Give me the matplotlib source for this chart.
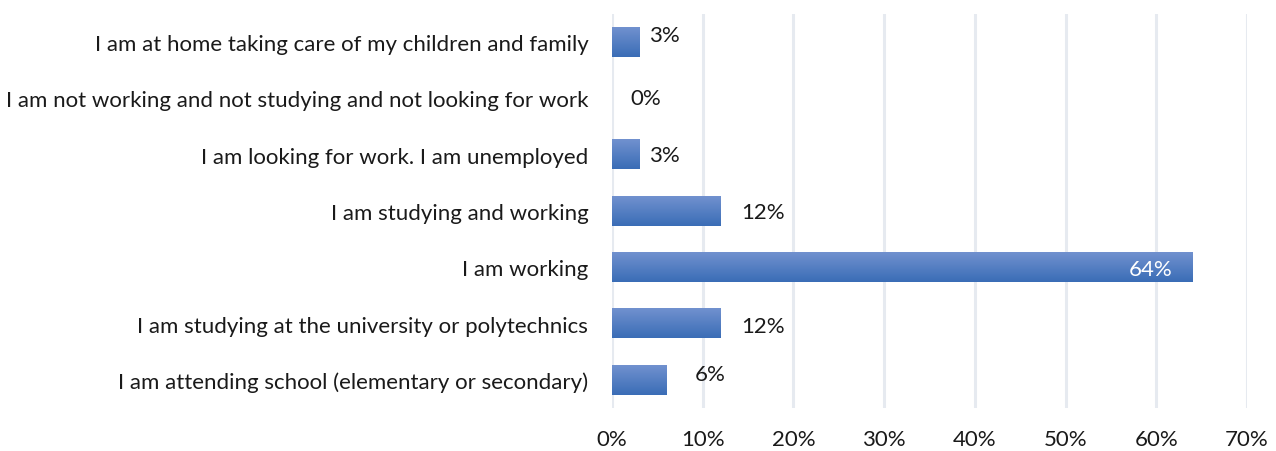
import numpy as np
import matplotlib.pyplot as plt
from matplotlib.colors import LinearSegmentedColormap

categories = [
    "I am at home taking care of my children and family",
    "I am not working and not studying and not looking for work",
    "I am looking for work. I am unemployed",
    "I am studying and working",
    "I am working",
    "I am studying at the university or polytechnics",
    "I am attending school (elementary or secondary)",
]
values = [3, 0, 3, 12, 64, 12, 6]
labels = ["3%", "0%", "3%", "12%", "64%", "12%", "6%"]
ticks = [0, 10, 20, 30, 40, 50, 60, 70]

# hand-placed label nudges (pixels) for each bar
label_dx = [10, 18, 10, 20, -20, 20, 28]
label_dy = [7, 0, 0, -1, -2, -2, 6]

plt.rcParams['font.family'] = ['Lato', 'DejaVu Sans']

fig = plt.figure(figsize=(12.76, 4.52), dpi=100)
ax = fig.add_axes([0.4796, 0.0951, 0.4977, 0.8717])

# vertical gradient, lighter at the top of each bar
grad = LinearSegmentedColormap.from_list("bar", ["#7191cf", "#3a6db6"])
bar_h = 0.52
ypos = np.arange(len(categories))
for y, v in zip(ypos, values):
    if v <= 0:
        continue
    ax.imshow(np.linspace(0, 1, 64).reshape(-1, 1), cmap=grad, aspect="auto",
              extent=[0, v, y + bar_h / 2, y - bar_h / 2], origin="upper",
              interpolation="bicubic", zorder=2)

ax.set_xlim(0, 70)
ax.set_ylim(len(categories) - 0.5, -0.5)

for y, v, lab, dx, dy in zip(ypos, values, labels, label_dx, label_dy):
    inside = v > 50
    ax.annotate(lab, (v, y), xytext=(dx, dy), textcoords="offset pixels",
                ha="right" if inside else "left", va="center", fontsize=16,
                color="white" if inside else "#1a1a1a", zorder=3)

ax.set_xticks(ticks)
ax.set_xticklabels([f"{t}%" for t in ticks], fontsize=16, color="#1a1a1a")
ax.set_yticks(ypos)
ax.set_yticklabels(categories, fontsize=16, color="#1a1a1a")
ax.tick_params(axis="both", length=0)
ax.tick_params(axis="y", pad=17)
ax.tick_params(axis="x", pad=15)
ax.grid(axis="x", color="#e6eaf0", linewidth=2.2, zorder=0)
for s in ax.spines.values():
    s.set_visible(False)

fig.savefig("out.png", dpi=100)
